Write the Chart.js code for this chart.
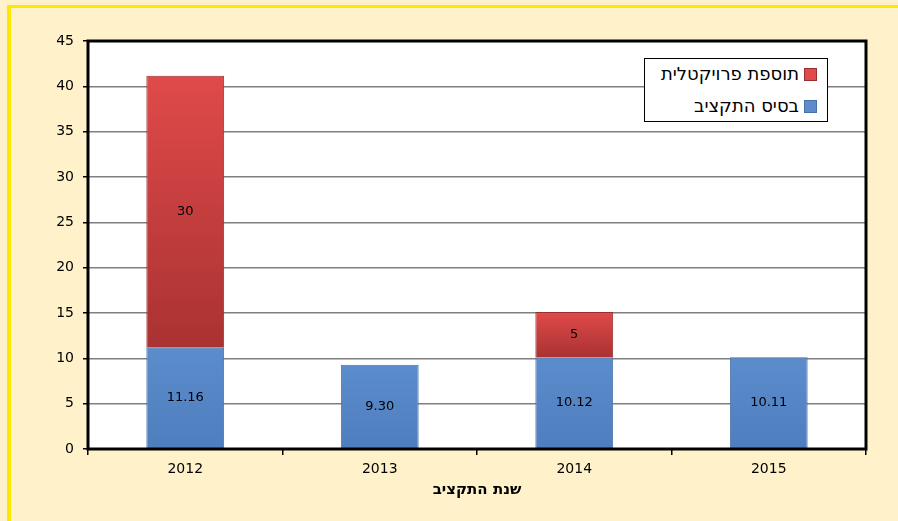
<!DOCTYPE html>
<html>
<head>
<meta charset="utf-8">
<script src="https://cdn.jsdelivr.net/npm/chart.js@4"></script>
<style>
html,body{margin:0;padding:0;background:#FFF2CB;overflow:hidden;}
#wrap{position:absolute;left:0;top:0;width:898px;height:521px;background:#FFF2CB;overflow:hidden;}
#frame{position:absolute;left:7px;top:5px;width:900px;height:530px;border-top:3px solid #FFE800;border-left:4px solid #FFE800;box-sizing:border-box;}
canvas{position:absolute;left:0;top:0;}
#legend{position:absolute;left:644px;top:58px;width:184px;height:64px;background:#fff;border:1px solid #000;box-sizing:border-box;direction:rtl;font-family:"DejaVu Sans";font-size:18px;color:#000;}
.item{position:absolute;right:10px;height:20px;line-height:20px;white-space:nowrap;display:flex;align-items:center;}
.sw{width:13px;height:13px;margin-left:5px;display:inline-block;box-sizing:border-box;}
</style>
</head>
<body>
<div id="wrap">
<div id="frame"></div>
<canvas id="c" width="898" height="521"></canvas>
<div id="legend"></div>
</div>
<script>
const categories = ['2012', '2013', '2014', '2015'];
const baseValues = [11.16, 9.30, 10.12, 10.11];
const projectValues = [30, 0, 5, 0];
const seriesNames = ['בסיס התקציב', 'תוספת פרויקטלית'];
const xTitle = 'שנת התקציב';
const yTicks = [0, 5, 10, 15, 20, 25, 30, 35, 40, 45];

const FONT = 'DejaVu Sans';
const BLUE = ['#5B8CCC', '#4F7EBE'];
const RED = ['#E04A4A', '#AA3232'];

const fmt = v => Number.isInteger(v) ? String(v) : v.toFixed(2);

function barGradient(colors) {
  return (c) => {
    const chart = c.chart;
    const y = chart.scales && chart.scales.y;
    if (!chart.chartArea || !y || c.type !== 'data') return colors[0];
    const i = c.dataIndex;
    const lo = c.datasetIndex === 0 ? 0 : baseValues[i];
    const hi = c.datasetIndex === 0 ? baseValues[i] : baseValues[i] + projectValues[i];
    const y0 = y.getPixelForValue(hi), y1 = y.getPixelForValue(lo);
    if (!(y1 > y0)) return colors[0];
    const g = chart.ctx.createLinearGradient(0, y0, 0, y1);
    g.addColorStop(0, colors[0]);
    g.addColorStop(1, colors[1]);
    return g;
  };
}

const bgPlugin = {
  id: 'bg',
  beforeDraw(chart) {
    const a = chart.chartArea, ctx = chart.ctx;
    ctx.save();
    ctx.fillStyle = '#fff';
    ctx.fillRect(a.left, a.top, a.right - a.left, a.bottom - a.top);
    ctx.restore();
  }
};

const labelPlugin = {
  id: 'labels',
  afterDatasetsDraw(chart) {
    const ctx = chart.ctx;
    ctx.save();
    ctx.font = '13px "' + FONT + '"';
    ctx.fillStyle = '#000';
    ctx.textAlign = 'center';
    ctx.textBaseline = 'middle';
    chart.data.datasets.forEach((ds, di) => {
      const meta = chart.getDatasetMeta(di);
      meta.data.forEach((el, i) => {
        const v = ds.data[i];
        if (!v) return;
        const p = el.getProps(['x', 'y', 'base'], true);
        ctx.fillText(fmt(v), p.x, (p.y + p.base) / 2);
      });
    });
    ctx.restore();
  }
};

const framePlugin = {
  id: 'frame',
  afterDraw(chart) {
    const a = chart.chartArea, ctx = chart.ctx;
    ctx.save();
    ctx.strokeStyle = '#000';
    ctx.lineWidth = 3;
    ctx.strokeRect(a.left, a.top, a.right - a.left, a.bottom - a.top);
    ctx.restore();
  }
};

const chart = new Chart(document.getElementById('c'), {
  type: 'bar',
  data: {
    labels: categories,
    datasets: [
      { label: seriesNames[0], data: baseValues, swatch: BLUE[0], backgroundColor: barGradient(BLUE), borderColor: '#4570A8', borderWidth: 1, categoryPercentage: 1, barPercentage: 0.4 },
      { label: seriesNames[1], data: projectValues, swatch: RED[0], backgroundColor: barGradient(RED), borderColor: '#9A2E2E', borderWidth: 1, categoryPercentage: 1, barPercentage: 0.4 }
    ]
  },
  options: {
    responsive: false,
    animation: false,
    layout: { padding: { left: 0, top: 41, right: 32, bottom: 22 } },
    plugins: { legend: { display: false }, tooltip: { enabled: false } },
    scales: {
      x: {
        stacked: true,
        grid: { display: true, offset: true, drawOnChartArea: false, tickLength: 6, tickColor: '#000', lineWidth: 1.5 },
        border: { display: false },
        ticks: { color: '#000', font: { family: FONT, size: 14 }, padding: 6 },
        title: { display: true, text: xTitle, color: '#000', font: { family: FONT, size: 15, weight: 'bold' }, padding: { top: 4, bottom: 0 } },
        afterFit(s) { s.height = 50; }
      },
      y: {
        stacked: true,
        min: 0, max: 45,
        afterBuildTicks(s) { s.ticks = yTicks.map(v => ({ value: v })); },
        grid: { color: '#7F7F7F', lineWidth: 1.5, tickLength: 5, tickColor: '#000' },
        border: { display: false },
        ticks: { color: '#000', font: { family: FONT, size: 14 }, padding: 9 },
        afterFit(s) { s.width = 88; }
      }
    }
  },
  plugins: [bgPlugin, labelPlugin, framePlugin]
});

// HTML legend built from the chart's datasets (RTL text)
const leg = document.getElementById('legend');
chart.data.datasets.slice().reverse().forEach((ds, k) => {
  const it = document.createElement('div');
  it.className = 'item';
  it.style.top = (5 + k * 32) + 'px';
  const sw = document.createElement('span');
  sw.className = 'sw';
  sw.style.background = ds.swatch;
  sw.style.border = '1px solid ' + ds.borderColor;
  const tx = document.createElement('span');
  tx.textContent = ds.label;
  it.appendChild(sw);
  it.appendChild(tx);
  leg.appendChild(it);
});
</script>
</body>
</html>
